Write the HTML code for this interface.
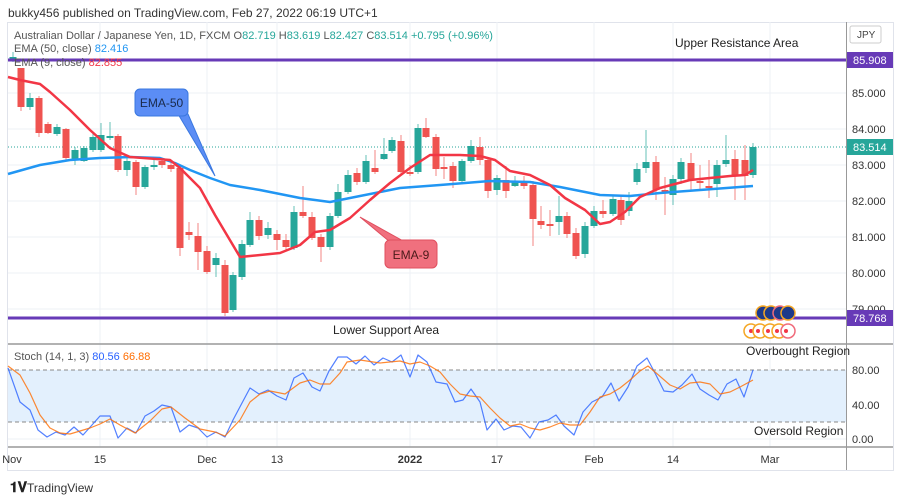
<!DOCTYPE html>
<html><head><meta charset="utf-8"><style>
body{margin:0;background:#fff;font-family:"Liberation Sans",sans-serif;}
svg{display:block}
</style></head><body>
<svg id="s" width="900" height="500" xmlns="http://www.w3.org/2000/svg" font-family="Liberation Sans, sans-serif">
<rect width="900" height="500" fill="#fff"/>
<text x="8" y="17" font-size="12" fill="#333">bukky456 published on TradingView.com, Feb 27, 2022 06:19 UTC+1</text>
<rect x="7.5" y="22.5" width="886" height="448" fill="none" stroke="#e0e3eb"/>
<g id="grid" stroke="#eef1f6" stroke-width="1"></g>
<rect x="8" y="370" width="838" height="52" fill="#e3f0fd"/>
<line x1="8" y1="370" x2="846" y2="370" stroke="#888" stroke-dasharray="4,3"/>
<line x1="8" y1="422" x2="846" y2="422" stroke="#888" stroke-dasharray="4,3"/>
<line x1="8" y1="344" x2="893" y2="344" stroke="#999" stroke-width="1.5"/>
<line x1="8" y1="447" x2="893" y2="447" stroke="#999" stroke-width="1.5"/>
<line x1="846.5" y1="22" x2="846.5" y2="470" stroke="#999" stroke-width="1"/>
<line x1="8" y1="147" x2="846" y2="147" stroke="#26a69a" stroke-dasharray="1,2"/>
<g id="candles"></g>
<polyline id="ema50" fill="none" stroke="#2196f3" stroke-width="2.5" stroke-linejoin="round"/>
<polyline id="ema9" fill="none" stroke="#f23645" stroke-width="2.5" stroke-linejoin="round"/>
<line x1="8" y1="60" x2="846" y2="60" stroke="#673ab7" stroke-width="3"/>
<line x1="8" y1="318" x2="846" y2="318" stroke="#673ab7" stroke-width="3"/>
<polyline id="k" fill="none" stroke="#2962ff" stroke-width="1.2" opacity="0.8" stroke-linejoin="round"/>
<polyline id="d" fill="none" stroke="#ff6d00" stroke-width="1.2" opacity="0.8" stroke-linejoin="round"/>
<path d="M178,114 L215,176 L188,114 Z" fill="#5b8df5" stroke="#3a78e0"/>
<rect x="135" y="89" width="53" height="27" rx="5" fill="#5b8df5" stroke="#3a78e0"/>
<text x="161.5" y="107" font-size="12" fill="#1a2a4a" text-anchor="middle">EMA-50</text>
<path d="M390,242 L360,217 L405,242 Z" fill="#f0707e" stroke="#e04f5f"/>
<rect x="385" y="240" width="52" height="28" rx="5" fill="#f0707e" stroke="#e04f5f"/>
<text x="411" y="259" font-size="12" fill="#4a1a1a" text-anchor="middle">EMA-9</text>
<text x="675" y="47" font-size="12" fill="#222">Upper Resistance Area</text>
<text x="333" y="334" font-size="12" fill="#222">Lower Support Area</text>
<text x="746" y="355" font-size="12" fill="#222">Overbought Region</text>
<text x="754" y="435" font-size="12" fill="#222">Oversold Region</text>
<text x="14" y="39" font-size="11" fill="#555">Australian Dollar / Japanese Yen, 1D, FXCM  <tspan fill="#555">O</tspan><tspan fill="#26a69a">82.719</tspan>  <tspan>H</tspan><tspan fill="#26a69a">83.619</tspan>  <tspan>L</tspan><tspan fill="#26a69a">82.427</tspan>  <tspan>C</tspan><tspan fill="#26a69a">83.514  +0.795 (+0.96%)</tspan></text>
<text x="14" y="52" font-size="11" fill="#555">EMA (50, close) <tspan fill="#2196f3">82.416</tspan></text>
<text x="14" y="66" font-size="11" fill="#555">EMA (9, close) <tspan fill="#f23645">82.855</tspan></text>
<text x="14" y="360" font-size="11" fill="#555">Stoch (14, 1, 3) <tspan fill="#2962ff">80.56</tspan> <tspan fill="#ff6d00">66.88</tspan></text>
<g font-size="11" fill="#333">
<text x="852" y="97">85.000</text><text x="852" y="133">84.000</text><text x="852" y="169">83.000</text>
<text x="852" y="205">82.000</text><text x="852" y="241">81.000</text><text x="852" y="277">80.000</text><text x="852" y="313">79.000</text>
<text x="852" y="374">80.00</text><text x="852" y="409">40.00</text><text x="852" y="443">0.00</text>
</g>
<rect x="847" y="52" width="46" height="16" fill="#673ab7"/><text x="853" y="64" font-size="11" fill="#fff">85.908</text>
<rect x="847" y="139" width="46" height="16" fill="#26a69a"/><text x="853" y="151" font-size="11" fill="#fff">83.514</text>
<rect x="847" y="310" width="46" height="16" fill="#673ab7"/><text x="853" y="322" font-size="11" fill="#fff">78.768</text>
<rect x="850" y="26" width="31" height="17" rx="2" fill="#fff" stroke="#ccc"/><text x="857" y="38" font-size="10" fill="#444">JPY</text>
<g id="ev"></g>
<g font-size="11" fill="#333" text-anchor="middle">
<text x="12" y="463">Nov</text><text x="100" y="463">15</text><text x="207" y="463">Dec</text><text x="277" y="463">13</text>
<text x="410" y="463" font-weight="bold">2022</text><text x="497" y="463">17</text><text x="594" y="463">Feb</text><text x="673" y="463">14</text><text x="770" y="463">Mar</text>
</g>
<text x="10" y="492" font-size="14" font-weight="bold" fill="#222">𝟏𝐕</text>
<text x="27" y="492" font-size="12" fill="#333">TradingView</text>
</svg>
<script>
var NS="http://www.w3.org/2000/svg";
function el(p,t,a){var e=document.createElementNS(NS,t);for(var k in a)e.setAttribute(k,a[k]);p.appendChild(e);return e;}
var g=document.getElementById('grid');
[100,207,277,410,497,594,673,770].forEach(function(x){el(g,'line',{x1:x,y1:22,x2:x,y2:447});});
[93,129,165,201,237,273,309,405,439].forEach(function(y){el(g,'line',{x1:8,y1:y,x2:846,y2:y});});
var C=[[13,60,57,52,62],[21,68,107,68,111],[30,107,98,93,110],[39,98,133,96,137],[48,124,133,122,134],[57,134,127,124,136],[66,129,158,128,160],[75,160,150,147,165],[84,161,148,146,162],[93,150,137,133,152],[101,150,135,123,152],[110,138,136,122,140],[118,136,170,134,172],[127,170,161,158,176],[136,162,187,160,195],[145,187,167,165,189],[154,167,165,160,170],[162,161,165,158,168],[171,165,169,162,172],[180,168,248,166,256],[189,232,235,222,240],[198,236,252,223,270],[207,251,272,246,274],[216,265,258,253,277],[225,265,313,260,316],[233,310,275,272,312],[242,277,244,240,280],[250,245,220,212,247],[259,220,236,216,240],[268,235,228,222,239],[277,234,240,230,250],[286,240,247,234,250],[294,248,212,206,250],[303,212,216,186,218],[312,217,238,212,240],[321,237,247,234,262],[330,247,216,213,250],[338,216,192,184,218],[348,192,175,170,194],[357,173,182,168,185],[366,182,161,155,184],[375,168,172,150,174],[384,159,154,138,160],[392,151,140,137,153],[401,141,172,135,176],[410,172,172,165,176],[418,172,128,124,174],[426,128,137,118,138],[436,137,169,134,176],[444,167,168,157,179],[453,166,181,162,188],[462,181,161,159,183],[471,161,146,140,163],[480,147,160,137,165],[488,160,191,157,198],[497,190,178,175,195],[506,180,191,166,198],[515,186,181,176,187],[524,183,186,176,189],[533,185,219,181,246],[541,221,225,206,229],[550,224,225,210,236],[559,222,216,196,235],[567,216,234,212,238],[576,233,256,228,259],[585,254,226,222,258],[594,226,211,206,228],[603,211,214,200,218],[613,214,199,195,216],[621,200,220,195,225],[629,211,201,192,216],[637,182,169,163,185],[646,168,162,130,173],[656,162,190,156,200],[665,190,192,177,215],[673,195,179,175,205],[681,179,162,158,184],[691,163,180,153,190],[700,181,182,165,190],[709,186,187,160,198],[717,184,165,160,197],[726,164,160,135,167],[735,159,175,150,200],[745,160,176,145,200],[753,175,147,143,178]];
var cg=document.getElementById('candles');
C.forEach(function(c){var up=c[2]<c[1];var col=up?'#26a69a':'#ef5350';
el(cg,'line',{x1:c[0],y1:c[3],x2:c[0],y2:c[4],stroke:col,'stroke-width':1,opacity:0.7});
var t=Math.min(c[1],c[2]),h=Math.max(2,Math.abs(c[1]-c[2]));
el(cg,'rect',{x:c[0]-3.5,y:t,width:7,height:h,fill:col});});
function pl(id,a){document.getElementById(id).setAttribute('points',a.map(function(p){return p.join(',')}).join(' '));}
pl('ema50',[[8,174],[40,165],[70,160],[100,158],[130,157],[160,158],[175,163],[190,170],[210,178],[230,185],[260,190],[300,198],[330,202],[360,196],[400,188],[440,185],[490,181],[530,182],[560,187],[600,195],[630,196],[660,193],[700,190],[753,186]]);
pl('ema9',[[8,77],[20,80],[40,84],[50,92],[70,110],[90,130],[110,148],[130,157],[170,160],[180,168],[200,188],[215,215],[240,257],[250,256],[280,253],[300,245],[315,232],[330,230],[350,218],[370,200],[390,183],[410,168],[430,155],[460,155],[480,156],[495,160],[510,171],[530,175],[550,185],[565,198],[585,210],[600,224],[610,222],[625,212],[640,197],[660,188],[690,180],[710,178],[730,176],[745,175],[753,170]]);
pl('k',[[8,368],[20,402],[30,410],[38,430],[47,437],[56,432],[65,435],[74,427],[83,435],[92,425],[100,416],[110,416],[118,438],[127,428],[136,433],[145,416],[154,411],[162,405],[171,407],[180,432],[189,425],[198,428],[207,437],[216,432],[225,437],[233,420],[242,403],[250,388],[259,394],[268,390],[277,396],[286,400],[294,378],[303,373],[312,387],[320,391],[329,371],[338,357],[347,357],[356,364],[365,356],[374,365],[383,358],[392,362],[401,355],[410,377],[418,355],[427,362],[436,382],[447,384],[455,402],[463,400],[471,389],[480,402],[487,430],[496,419],[504,430],[513,426],[521,427],[530,438],[539,422],[548,420],[556,415],[564,426],[574,435],[583,412],[592,402],[602,397],[611,383],[619,401],[628,387],[637,366],[647,358],[656,375],[664,391],[673,392],[682,385],[692,374],[700,389],[709,395],[718,400],[727,384],[736,379],[744,397],[753,370]]);
pl('d',[[8,366],[20,375],[30,393],[40,415],[50,428],[60,433],[70,434],[80,431],[90,428],[100,424],[110,419],[120,425],[135,433],[150,421],[162,409],[171,407],[185,418],[200,429],[215,432],[225,436],[240,420],[250,402],[260,394],[270,391],[285,394],[300,383],[310,380],[320,384],[330,384],[340,373],[347,362],[360,360],[380,363],[400,361],[410,364],[420,362],[430,366],[440,372],[450,384],[460,394],[470,396],[480,397],[490,408],[500,418],[510,426],[520,424],[530,428],[540,430],[550,427],[560,423],[570,425],[580,425],[590,412],[600,397],[610,394],[620,388],[630,380],[640,371],[648,366],[655,372],[670,385],[680,389],[690,383],[700,382],[710,384],[720,394],[730,392],[740,387],[753,380]]);
var ev=document.getElementById('ev');
[763,771,780,788].forEach(function(x,i){el(ev,'circle',{cx:x,cy:313,r:7,fill:'#1e3a8a',stroke:i==2?'#f06a7a':'#f5a623','stroke-width':1.5});});
[751,760,770,779,788].forEach(function(x,i){el(ev,'circle',{cx:x,cy:331,r:7,fill:'#fff',stroke:i==4?'#f06a7a':'#f5a623','stroke-width':1.5});el(ev,'circle',{cx:x-(i?2:0),cy:331,r:2,fill:'#f23645'});});
</script>
</body></html>
